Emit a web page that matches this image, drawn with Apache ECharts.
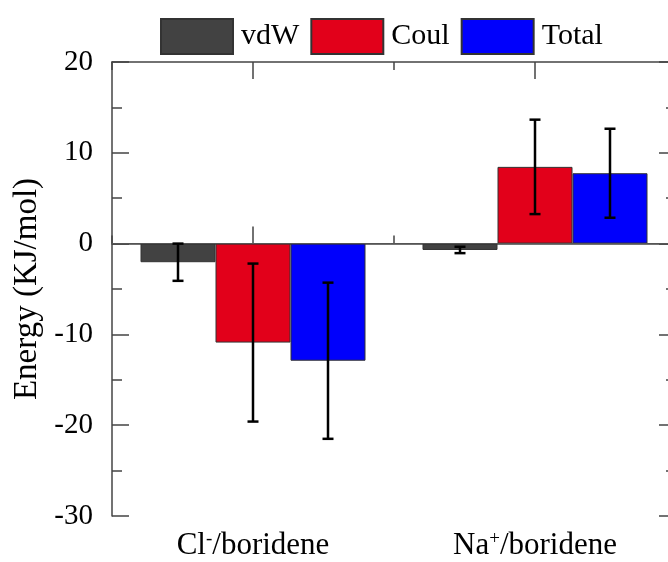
<!DOCTYPE html>
<html>
<head>
<meta charset="utf-8">
<title>Energy</title>
<script src="https://cdn.jsdelivr.net/npm/echarts@6/dist/echarts.min.js"></script>
<style>
  html, body { margin: 0; padding: 0; background: #fff; }
  #echart1 { width: 668px; height: 562px; }
</style>
</head>
<body>
<div id="echart1"></div>
<script>
// data
var categories = ['Cl⁻/boridene', 'Na⁺/boridene'];
var seriesNames = ['vdW', 'Coul', 'Total'];
var vdW = [-2.05, -0.7];
var vdWErr = [2.05, 0.35];
var coul = [-10.9, 8.45];
var coulErr = [8.7, 5.2];
var total = [-12.9, 7.75];
var totalErr = [8.6, 4.9];
var yTicks = [-30, -20, -10, 0, 10, 20];

echarts_1();

function echarts_1() {
    var myChart = echarts.init(document.getElementById('echart1'));
    var font = "'Liberation Serif', 'Times New Roman', serif";
    var colors = ['#424242', '#e2001a', '#0000fc'];
    var barW = 75;
    var values = [vdW, coul, total];
    var errs = [vdWErr, coulErr, totalErr];

    // error bar items: [category, value, err, series index]
    var errData = [];
    for (var s = 0; s < values.length; s++) {
        for (var i = 0; i < categories.length; i++) {
            errData.push([i, values[s][i], errs[s][i], s]);
        }
    }

    function catLabel(v) {
        return v.replace('⁻', '{sup|-}').replace('⁺', '{sup|+}');
    }

    var axisLine = { show: true, lineStyle: { color: '#444', width: 1.5 } };
    var tickStyle = { color: '#444', width: 1.5 };

    var option = {
        animation: false,
        legend: {
            data: seriesNames,
            left: 160,
            top: 18,
            padding: 0,
            itemWidth: 72,
            itemHeight: 35,
            itemGap: 11,
            icon: 'rect',
            textStyle: {
                fontFamily: font,
                fontSize: 30,
                color: '#000',
                padding: [0, 0, 0, 3]
            }
        },
        grid: {
            left: 112,
            top: 62,
            width: 564,
            height: 454,
            containLabel: false,
            outerBoundsMode: 'none'
        },
        xAxis: [{
            type: 'category',
            position: 'bottom',
            data: categories,
            axisLine: axisLine,
            axisTick: { show: true, alignWithLabel: true, inside: true, length: 17, lineStyle: tickStyle },
            axisLabel: {
                interval: 0,
                hideOverlap: false,
                margin: 14,
                fontFamily: font,
                fontSize: 31,
                color: '#000',
                formatter: catLabel,
                rich: {
                    sup: { fontFamily: font, fontSize: 19, verticalAlign: 'top', color: '#000' }
                }
            }
        }, {
            type: 'category',
            position: 'bottom',
            data: categories,
            axisLine: { show: false },
            axisTick: { show: true, inside: true, length: 8, lineStyle: tickStyle },
            axisLabel: { show: false }
        }, {
            type: 'category',
            position: 'top',
            data: categories,
            axisLine: axisLine,
            axisTick: { show: true, alignWithLabel: true, inside: true, length: 17, lineStyle: tickStyle },
            axisLabel: { show: false }
        }, {
            type: 'category',
            position: 'top',
            data: categories,
            axisLine: { show: false },
            axisTick: { show: true, inside: true, length: 8, lineStyle: tickStyle },
            axisLabel: { show: false }
        }],
        yAxis: [{
            type: 'value',
            position: 'left',
            min: yTicks[0],
            max: yTicks[yTicks.length - 1],
            interval: 10,
            name: 'Energy (KJ/mol)',
            nameLocation: 'middle',
            nameGap: 68,
            nameTextStyle: { fontFamily: font, fontSize: 33, color: '#000' },
            axisLine: axisLine,
            axisTick: { show: true, inside: true, length: 17, lineStyle: tickStyle },
            minorTick: { show: true, splitNumber: 2, length: 10, lineStyle: tickStyle },
            splitLine: { show: false },
            axisLabel: { margin: 19, fontFamily: font, fontSize: 29, color: '#000' }
        }, {
            type: 'value',
            position: 'right',
            min: yTicks[0],
            max: yTicks[yTicks.length - 1],
            interval: 10,
            axisLine: axisLine,
            axisTick: { show: true, inside: true, length: 17, lineStyle: tickStyle },
            minorTick: { show: true, splitNumber: 2, length: 10, lineStyle: tickStyle },
            splitLine: { show: false },
            axisLabel: { show: false }
        }],
        series: []
    };

    for (var k = 0; k < seriesNames.length; k++) {
        var bar = {
            name: seriesNames[k],
            type: 'bar',
            xAxisIndex: 0,
            yAxisIndex: 0,
            barWidth: barW,
            barGap: '0%',
            itemStyle: {
                color: colors[k],
                borderColor: '#333',
                borderWidth: 1
            },
            data: values[k]
        };
        if (k === 0) {
            // zero line across the plot
            bar.markLine = {
                silent: true,
                symbol: 'none',
                label: { show: false },
                lineStyle: { color: '#555', width: 1, type: 'solid' },
                data: [{ yAxis: 0 }]
            };
        }
        option.series.push(bar);
    }

    // error bars, drawn on the same scales as the bars
    option.series.push({
        type: 'custom',
        xAxisIndex: 0,
        yAxisIndex: 0,
        z: 10,
        data: errData,
        renderItem: function (params, api) {
            var cat = api.value(0);
            var val = api.value(1);
            var err = api.value(2);
            var s = api.value(3);
            var hi = api.coord([cat, val + err]);
            var lo = api.coord([cat, val - err]);
            var x = hi[0] + (s - 1) * barW;
            var cap = 5.5;
            var st = { stroke: '#000', lineWidth: 2.5 };
            return {
                type: 'group',
                children: [
                    { type: 'line', shape: { x1: x, y1: hi[1], x2: x, y2: lo[1] }, style: st },
                    { type: 'line', shape: { x1: x - cap, y1: hi[1], x2: x + cap, y2: hi[1] }, style: st },
                    { type: 'line', shape: { x1: x - cap, y1: lo[1], x2: x + cap, y2: lo[1] }, style: st }
                ]
            };
        }
    });

    myChart.setOption(option);
    window.addEventListener("resize", function () {
        myChart.resize();
    });
}
</script>
</body>
</html>
